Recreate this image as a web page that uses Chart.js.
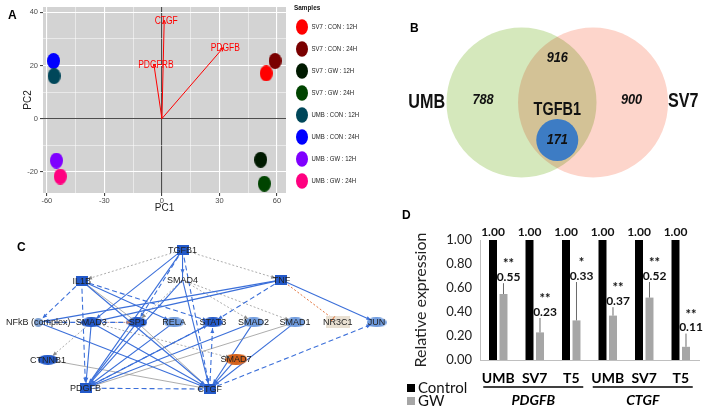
<!DOCTYPE html>
<html>
<head>
<meta charset="utf-8">
<script src="https://cdn.jsdelivr.net/npm/chart.js@4.4.1/dist/chart.umd.min.js"></script>
<style>
  body { margin: 0; background: #fff; }
  #wrap { position: relative; width: 709px; height: 410px; overflow: hidden; }
  canvas { position: absolute; }
  .panel { position: absolute; font: bold 12px "Liberation Sans", Arial, sans-serif; line-height: 12px; color: #000; }
</style>
</head>
<body>
<div id="wrap">
  <canvas id="pca" width="370" height="220" style="left:0px;top:0px"></canvas>
  <canvas id="venn" width="339" height="205" style="left:370px;top:0px"></canvas>
  <canvas id="net" width="400" height="182" style="left:0px;top:228px"></canvas>
  <canvas id="qpcr" width="309" height="210" style="left:400px;top:200px"></canvas>
  <div class="panel" style="left:8px;top:9px">A</div>
  <div class="panel" style="left:410px;top:22px">B</div>
  <div class="panel" style="left:17px;top:241px">C</div>
  <div class="panel" style="left:402px;top:209px">D</div>
</div>
<script>
// ---- A: PCA ----
const pcaSamples = ['SV7 : CON : 12H', 'SV7 : CON : 24H', 'SV7 : GW : 12H', 'SV7 : GW : 24H',
  'UMB : CON : 12H', 'UMB : CON : 24H', 'UMB : GW : 12H', 'UMB : GW : 24H'];
const pc1 = [54.4, 59, 51.5, 53.4, -56.2, -56.5, -55, -53];
const pc2 = [17, 21.7, -15.5, -24.5, 16, 21.7, -15.8, -21.8];
const sampleColors = ['#ff0000', '#7a0000', '#001a00', '#004400', '#00475a', '#0000ff', '#7f00ff', '#ff0080'];
const loadingGenes = ['CTGF', 'PDGFRB', 'PDGFB'];
const loadingPC1 = [1.2, -4.2, 32];
const loadingPC2 = [37, 20.5, 26.7];

// ---- B: Venn ----
const vennSets = ['UMB', 'SV7'];
const vennOnly = [788, 900];
const vennShared = 916;
const vennCore = 'TGFB1';
const vennCoreCount = 171;

// ---- C: network ----
const netNodes = ['TGFB1', 'IL1B', 'SMAD4', 'TNF', 'NFkB (complex)', 'SMAD3', 'SP1', 'RELA',
  'STAT3', 'SMAD2', 'SMAD1', 'NR3C1', 'JUN', 'CTNNB1', 'SMAD7', 'PDGFB', 'CTGF'];
const netX = [45.5, 19.5, 45.5, 71, 8.3, 22, 33.8, 43.3, 53.3, 63.8, 74.5, 85.5, 95.5, 10.8, 59.3, 20.5, 52.5];
const netY = [9.3, 27.5, 27, 27, 52, 52, 52, 52, 52, 52, 52, 52, 52, 74, 73.6, 90.7, 91.2];
const netKind = ['rect', 'rect', 'none', 'rect', 'small', 'oval', 'oval', 'light',
  'oval', 'light', 'light', 'beige', 'light', 'oval', 'orange', 'rect', 'rect'];
const netEdges = [
  ['TGFB1', 'SMAD4', 'a'], ['TGFB1', 'SMAD3', 'a'], ['TGFB1', 'SP1', 'ad'], ['TGFB1', 'PDGFB', 'a'],
  ['TGFB1', 'CTGF', 'ad'], ['TGFB1', 'IL1B', 'gd'], ['TGFB1', 'TNF', 'gd'],
  ['IL1B', 'NFkB (complex)', 'ad'], ['IL1B', 'PDGFB', 'ad'], ['IL1B', 'STAT3', 'ad'], ['IL1B', 'CTGF', 'a'],
  ['IL1B', 'SP1', 'g'], ['IL1B', 'RELA', 'a'],
  ['TNF', 'NFkB (complex)', 'a'], ['TNF', 'SMAD3', 'a'], ['TNF', 'STAT3', 'ad'], ['TNF', 'JUN', 'a'],
  ['TNF', 'NR3C1', 'i'],
  ['SMAD4', 'SP1', 'gd'], ['SMAD4', 'SMAD2', 'gd'], ['SMAD4', 'SMAD1', 'gd'], ['SMAD4', 'PDGFB', 'a'],
  ['SMAD4', 'CTGF', 'a'],
  ['NFkB (complex)', 'SP1', 'ad'], ['SMAD3', 'SP1', 'od'], ['NFkB (complex)', 'CTGF', 'a'],
  ['SMAD3', 'PDGFB', 'a'], ['SMAD3', 'CTGF', 'a'], ['SMAD3', 'CTNNB1', 'gd'], ['SMAD3', 'SMAD7', 'gd'],
  ['SP1', 'PDGFB', 'a'], ['SP1', 'CTGF', 'g'], ['RELA', 'PDGFB', 'a'], ['STAT3', 'PDGFB', 'a'],
  ['SMAD2', 'PDGFB', 'a'], ['SMAD1', 'PDGFB', 'g'], ['SMAD1', 'CTGF', 'a'], ['SMAD2', 'CTGF', 'a'],
  ['SMAD7', 'CTGF', 'a'], ['CTNNB1', 'CTGF', 'g'], ['PDGFB', 'CTGF', 'ad'], ['CTGF', 'JUN', 'ad'],
  ['CTGF', 'STAT3', 'ad'], ['PDGFB', 'STAT3', 'ad']
];

// ---- D: qPCR ----
const qpcrGroups = ['UMB', 'SV7', 'T5', 'UMB', 'SV7', 'T5'];
const qpcrGenes = ['PDGFB', 'CTGF'];
const controlExpr = [1, 1, 1, 1, 1, 1];
const gwExpr = [0.55, 0.23, 0.33, 0.37, 0.52, 0.11];
const gwErr = [0.09, 0.12, 0.32, 0.07, 0.13, 0.11];
const gwSig = ['**', '**', '*', '**', '**', '**'];
const qpcrTicks = [0, 0.2, 0.4, 0.6, 0.8, 1.0];

Chart.defaults.font.family = '"Liberation Sans", Arial, sans-serif';
Chart.defaults.animation = false;
Chart.defaults.responsive = false;
Chart.defaults.plugins.legend.display = false;
Chart.defaults.plugins.tooltip.enabled = false;

function ellipse(color, w, h) {
  const c = document.createElement('canvas');
  c.width = w; c.height = h;
  const g = c.getContext('2d');
  g.fillStyle = color;
  g.beginPath();
  g.ellipse(w / 2, h / 2, w / 2, h / 2, 0, 0, Math.PI * 2);
  g.fill();
  return c;
}

function box(color, w, h) {
  const c = document.createElement('canvas');
  c.width = w; c.height = h;
  const g = c.getContext('2d');
  g.fillStyle = color;
  g.fillRect(0, 0, w, h);
  return c;
}

function condensedText(ctx, text, x, y, font, sx, color, align = 'center') {
  ctx.save();
  ctx.font = font;
  ctx.fillStyle = color;
  ctx.textAlign = align;
  ctx.textBaseline = 'middle';
  ctx.translate(x, y);
  ctx.scale(sx, 1);
  ctx.fillText(text, 0, 0);
  ctx.restore();
}

// ---------- A ----------
const pcaPlugin = {
  id: 'pcaExtras',
  beforeDraw(chart) {
    const { ctx, chartArea: a } = chart;
    ctx.save();
    ctx.fillStyle = '#d3d3d3';
    ctx.fillRect(a.left, a.top, a.right - a.left, a.bottom - a.top);
    ctx.restore();
  },
  afterDatasetsDraw(chart) {
    const { ctx, scales: { x, y } } = chart;
    ctx.save();
    loadingGenes.forEach((g, i) => {
      const x0 = x.getPixelForValue(0), y0 = y.getPixelForValue(0);
      const x1 = x.getPixelForValue(loadingPC1[i]), y1 = y.getPixelForValue(loadingPC2[i]);
      const ang = Math.atan2(y1 - y0, x1 - x0);
      ctx.strokeStyle = '#f00';
      ctx.lineWidth = 1;
      ctx.beginPath();
      ctx.moveTo(x1 - 4 * Math.cos(ang - 0.45), y1 - 4 * Math.sin(ang - 0.45));
      ctx.lineTo(x1, y1);
      ctx.lineTo(x1 - 4 * Math.cos(ang + 0.45), y1 - 4 * Math.sin(ang + 0.45));
      ctx.stroke();
      condensedText(ctx, g, x1 + 2, y1 + 1, '10px "Liberation Sans", Arial', 0.85, '#f00');
    });
    ctx.restore();
  },
  afterDraw(chart) {
    const ctx = chart.ctx;
    condensedText(ctx, 'Samples', 294, 8, 'bold 7.5px "Liberation Sans", Arial', 0.85, '#111', 'left');
    pcaSamples.forEach((s, i) => {
      const cy = 27 + i * 22;
      ctx.save();
      ctx.fillStyle = sampleColors[i];
      ctx.beginPath();
      ctx.ellipse(302, cy, 6, 7.8, 0, 0, Math.PI * 2);
      ctx.fill();
      ctx.restore();
      condensedText(ctx, s, 311.5, cy, '7.5px "Liberation Sans", Arial', 0.8, '#222', 'left');
    });
  }
};

new Chart(document.getElementById('pca'), {
  type: 'scatter',
  data: {
    datasets: [
      ...pcaSamples.map((s, i) => ({
        label: s,
        data: [{ x: pc1[i], y: pc2[i] }],
        pointStyle: ellipse(sampleColors[i], 13, 16),
        pointRadius: 6,
        order: 0
      })),
      ...loadingGenes.map((g, i) => ({
        label: g,
        data: [{ x: 0, y: 0 }, { x: loadingPC1[i], y: loadingPC2[i] }],
        showLine: true,
        borderColor: '#f00',
        borderWidth: 1,
        pointRadius: 0,
        order: 1
      }))
    ]
  },
  options: {
    layout: { padding: { left: 0, top: 7, right: 84, bottom: 0 } },
    scales: {
      x: {
        min: -62, max: 64.7,
        afterBuildTicks: (s) => { s.ticks = [-60, -45, -30, -15, 0, 15, 30, 45, 60].map((v) => ({ value: v })); },
        afterFit: (s) => { s.height = 27; },
        border: { display: false },
        grid: {
          color: (c) => (c.tick && c.tick.value === 0 ? '#4d4d4d' : '#fff'),
          lineWidth: (c) => (c.tick && c.tick.value % 30 === 0 ? 1.1 : 0.5),
          tickLength: 3,
          tickColor: (c) => (c.tick && c.tick.value % 30 === 0 ? '#444' : 'rgba(0,0,0,0)')
        },
        ticks: {
          autoSkip: false, maxRotation: 0, padding: 0,
          callback: (v) => (v % 30 === 0 ? v : ''),
          font: { size: 7.5 }, color: '#4d4d4d'
        },
        title: { display: true, text: 'PC1', font: { size: 10 }, color: '#222', padding: { top: 0, bottom: 6 } }
      },
      y: {
        min: -28, max: 42,
        afterBuildTicks: (s) => { s.ticks = [-20, -10, 0, 10, 20, 30, 40].map((v) => ({ value: v })); },
        afterFit: (s) => { s.width = 43; },
        border: { display: false },
        grid: {
          color: (c) => (c.tick && c.tick.value === 0 ? '#4d4d4d' : '#fff'),
          lineWidth: (c) => (c.tick && c.tick.value % 20 === 0 ? 1.1 : 0.5),
          tickLength: 3,
          tickColor: (c) => (c.tick && c.tick.value % 20 === 0 ? '#444' : 'rgba(0,0,0,0)')
        },
        ticks: {
          autoSkip: false, padding: 2,
          callback: (v) => (v % 20 === 0 ? v : ''),
          font: { size: 7.5 }, color: '#4d4d4d'
        },
        title: { display: true, text: 'PC2', font: { size: 10 }, color: '#222', padding: { top: 22, bottom: 0 } }
      }
    }
  },
  plugins: [pcaPlugin]
});

// ---------- B ----------
const vennPlugin = {
  id: 'vennExtras',
  beforeDatasetDraw(chart, args) {
    if (chart.data.datasets[args.index].multiply) {
      chart.ctx.save();
      chart.ctx.globalCompositeOperation = 'multiply';
    }
  },
  afterDatasetDraw(chart, args) {
    if (chart.data.datasets[args.index].multiply) chart.ctx.restore();
  },
  afterDatasetsDraw(chart) {
    const { ctx, scales: { x, y } } = chart;
    const px = (v) => x.getPixelForValue(v);
    const py = (v) => y.getPixelForValue(v);
    const heavy = 'bold 21px "Liberation Sans", Arial';
    condensedText(ctx, vennSets[0], px(-1.74), py(0.01), heavy, 0.77, '#111');
    condensedText(ctx, vennSets[1], px(1.68), py(0.02), heavy, 0.77, '#111');
    const num = 'italic bold 15px "Liberation Sans", Arial';
    condensedText(ctx, String(vennOnly[0]), px(-0.99), py(0.03), num, 0.85, '#111');
    condensedText(ctx, String(vennOnly[1]), px(0.99), py(0.03), num, 0.85, '#111');
    condensedText(ctx, String(vennShared), px(0), py(0.59), num, 0.85, '#111');
    condensedText(ctx, vennCore, px(0), py(-0.1), 'bold 19px "Liberation Sans", Arial', 0.76, '#111');
    condensedText(ctx, String(vennCoreCount), px(0), py(-0.5), num, 0.85, '#111');
  }
};

function unitRadius(c, r) {
  const s = c.chart.scales.x;
  return Math.abs(s.getPixelForValue(r) - s.getPixelForValue(0));
}

new Chart(document.getElementById('venn'), {
  type: 'scatter',
  data: {
    datasets: [
      {
        label: vennCore,
        data: [{ x: 0, y: -0.5 }],
        backgroundColor: '#3d7cc4',
        borderWidth: 0,
        pointRadius: (c) => unitRadius(c, 0.28),
        order: 0
      },
      {
        label: vennSets.join(' / '),
        data: [{ x: -0.477, y: 0 }, { x: 0.477, y: 0 }],
        backgroundColor: ['#d5e8bc', '#fdd5cb'],
        borderWidth: 0,
        pointRadius: (c) => unitRadius(c, 1),
        multiply: true,
        order: 1
      }
    ]
  },
  options: {
    layout: { padding: 0 },
    scales: {
      x: { display: false, min: -2.497, max: 2.023 },
      y: { display: false, min: -1.3667, max: 1.3667 }
    }
  },
  plugins: [vennPlugin]
});

// ---------- C ----------
const nodeSprites = {
  rect: box('#2359c9', 12, 10),
  oval: ellipse('#2359c9', 20, 10),
  light: ellipse('#6f9bde', 20, 10),
  small: ellipse('#7d9fd0', 9, 9),
  orange: ellipse('#d4601a', 22, 11),
  beige: box('#e9e0d2', 24, 12),
  none: ellipse('rgba(0,0,0,0)', 2, 2)
};
const edgeStyle = {
  a: { color: '#3b6fd9', dash: [], width: 1.1, head: 'arrow' },
  ad: { color: '#3b6fd9', dash: [5, 3], width: 1.1, head: 'arrow' },
  g: { color: '#8a8a8a', dash: [], width: 0.7, head: null },
  gd: { color: '#8a8a8a', dash: [2, 2], width: 0.7, head: 'arrow' },
  od: { color: '#b98070', dash: [2, 2], width: 0.8, head: 'arrow' },
  i: { color: '#e0662a', dash: [2, 2], width: 0.9, head: 'bar' }
};
const nodeIndex = (n) => netNodes.indexOf(n);

const netPlugin = {
  id: 'netExtras',
  afterDatasetsDraw(chart) {
    const { ctx, scales: { x, y } } = chart;
    ctx.save();
    netEdges.forEach(([a, b, k]) => {
      const st = edgeStyle[k];
      if (!st.head) return;
      const ia = nodeIndex(a), ib = nodeIndex(b);
      const x0 = x.getPixelForValue(netX[ia]), y0 = y.getPixelForValue(netY[ia]);
      const x1 = x.getPixelForValue(netX[ib]), y1 = y.getPixelForValue(netY[ib]);
      const ang = Math.atan2(y1 - y0, x1 - x0);
      const tx = x1 - 6 * Math.cos(ang), ty = y1 - 6 * Math.sin(ang);
      ctx.fillStyle = st.color;
      ctx.strokeStyle = st.color;
      if (st.head === 'arrow') {
        ctx.beginPath();
        ctx.moveTo(tx, ty);
        ctx.lineTo(tx - 5 * Math.cos(ang - 0.4), ty - 5 * Math.sin(ang - 0.4));
        ctx.lineTo(tx - 5 * Math.cos(ang + 0.4), ty - 5 * Math.sin(ang + 0.4));
        ctx.closePath();
        ctx.fill();
      } else {
        ctx.lineWidth = 1;
        ctx.beginPath();
        ctx.moveTo(tx - 3 * Math.sin(ang), ty + 3 * Math.cos(ang));
        ctx.lineTo(tx + 3 * Math.sin(ang), ty - 3 * Math.cos(ang));
        ctx.stroke();
      }
    });
    ctx.restore();
  },
  afterDraw(chart) {
    const { ctx, scales: { x, y } } = chart;
    ctx.save();
    ctx.font = '9px "Liberation Sans", Arial';
    ctx.fillStyle = '#222';
    ctx.textAlign = 'center';
    ctx.textBaseline = 'middle';
    netNodes.forEach((n, i) => {
      ctx.fillText(n, x.getPixelForValue(netX[i]), y.getPixelForValue(netY[i]) + 0.5);
    });
    ctx.restore();
  }
};

new Chart(document.getElementById('net'), {
  type: 'scatter',
  data: {
    datasets: [
      {
        label: 'nodes',
        data: netNodes.map((n, i) => ({ x: netX[i], y: netY[i] })),
        pointStyle: (c) => nodeSprites[netKind[c.dataIndex]],
        pointRadius: 5,
        order: 0
      },
      ...netEdges.map(([a, b, k]) => ({
        label: a + '-' + b,
        data: [{ x: netX[nodeIndex(a)], y: netY[nodeIndex(a)] }, { x: netX[nodeIndex(b)], y: netY[nodeIndex(b)] }],
        showLine: true,
        borderColor: edgeStyle[k].color,
        borderWidth: edgeStyle[k].width,
        borderDash: edgeStyle[k].dash,
        pointRadius: 0,
        order: 1
      }))
    ]
  },
  options: {
    layout: { padding: 0 },
    scales: {
      x: { display: false, min: 0, max: 100 },
      y: { display: false, min: 0, max: 100, reverse: true }
    }
  },
  plugins: [netPlugin]
});

// ---------- D ----------
const qpcrPlugin = {
  id: 'qpcrExtras',
  afterDatasetsDraw(chart) {
    const { ctx, scales: { y } } = chart;
    const ctl = chart.getDatasetMeta(0).data;
    const gw = chart.getDatasetMeta(1).data;
    ctx.save();
    ctx.textAlign = 'center';
    ctx.textBaseline = 'middle';
    ctx.fillStyle = '#111';
    ctx.font = 'bold 12px Lato, "Liberation Sans", Arial';
    ctl.forEach((bar, i) => ctx.fillText(controlExpr[i].toFixed(2), bar.x, bar.y - 8));
    gw.forEach((bar, i) => {
      const top = y.getPixelForValue(gwExpr[i] + gwErr[i]);
      ctx.strokeStyle = '#6b6b6b';
      ctx.lineWidth = 1;
      ctx.beginPath();
      ctx.moveTo(bar.x, bar.y);
      ctx.lineTo(bar.x, top);
      ctx.stroke();
      ctx.font = 'bold 12px Lato, "Liberation Sans", Arial';
      ctx.fillText(gwExpr[i].toFixed(2), bar.x + 5, top - 6);
      ctx.font = 'bold 13px Lato, "Liberation Sans", Arial';
      ctx.fillText(gwSig[i], bar.x + 5, top - 19);
    });
    ctx.restore();
  },
  afterDraw(chart) {
    const { ctx, scales: { x } } = chart;
    ctx.save();
    qpcrGenes.forEach((g, k) => {
      const x0 = x.getPixelForValue(3 * k) - 15;
      const x1 = x.getPixelForValue(3 * k + 2) + 12;
      ctx.strokeStyle = '#000';
      ctx.lineWidth = 1.3;
      ctx.beginPath();
      ctx.moveTo(x0, 187);
      ctx.lineTo(x1, 187);
      ctx.stroke();
      ctx.fillStyle = '#000';
      ctx.font = 'italic bold 14px Lato, "Liberation Sans", Arial';
      ctx.textAlign = 'center';
      ctx.textBaseline = 'middle';
      ctx.fillText(g, (x0 + x1) / 2, 200);
    });
    ctx.textAlign = 'left';
    ctx.textBaseline = 'middle';
    ctx.font = '15px Lato, "Liberation Sans", Arial';
    chart.data.datasets.forEach((ds, i) => {
      const cy = 188 + i * 13;
      ctx.fillStyle = ds.backgroundColor;
      ctx.fillRect(7, cy - 4, 8, 8);
      ctx.fillStyle = '#111';
      ctx.fillText(ds.label, 18, cy);
    });
    ctx.restore();
  }
};

new Chart(document.getElementById('qpcr'), {
  type: 'bar',
  data: {
    labels: qpcrGroups,
    datasets: [
      { label: 'Control', data: controlExpr, backgroundColor: '#000', barPercentage: 0.76, categoryPercentage: 0.575 },
      { label: 'GW', data: gwExpr, backgroundColor: '#a6a6a6', barPercentage: 0.76, categoryPercentage: 0.575 }
    ]
  },
  options: {
    layout: { padding: { left: 7, top: 40, right: 10, bottom: 0 } },
    scales: {
      x: {
        afterFit: (s) => { s.height = 50; },
        grid: { display: false, drawTicks: false },
        border: { color: '#bfbfbf' },
        ticks: { autoSkip: false, maxRotation: 0, padding: 10, color: '#000',
          font: { family: 'Lato, "Liberation Sans", Arial', size: 14, weight: 'bold' } }
      },
      y: {
        min: 0, max: 1,
        afterBuildTicks: (s) => { s.ticks = qpcrTicks.map((v) => ({ value: v })); },
        afterFit: (s) => { s.width = 73; },
        grid: { display: false, drawTicks: false },
        border: { color: '#bfbfbf' },
        ticks: { padding: 8, color: '#222', callback: (v) => v.toFixed(2),
          font: { family: 'Lato, "Liberation Sans", Arial', size: 13 } },
        title: { display: true, text: 'Relative expression', color: '#222',
          font: { family: 'Lato, "Liberation Sans", Arial', size: 16 } }
      }
    }
  },
  plugins: [qpcrPlugin]
});
</script>
</body>
</html>
